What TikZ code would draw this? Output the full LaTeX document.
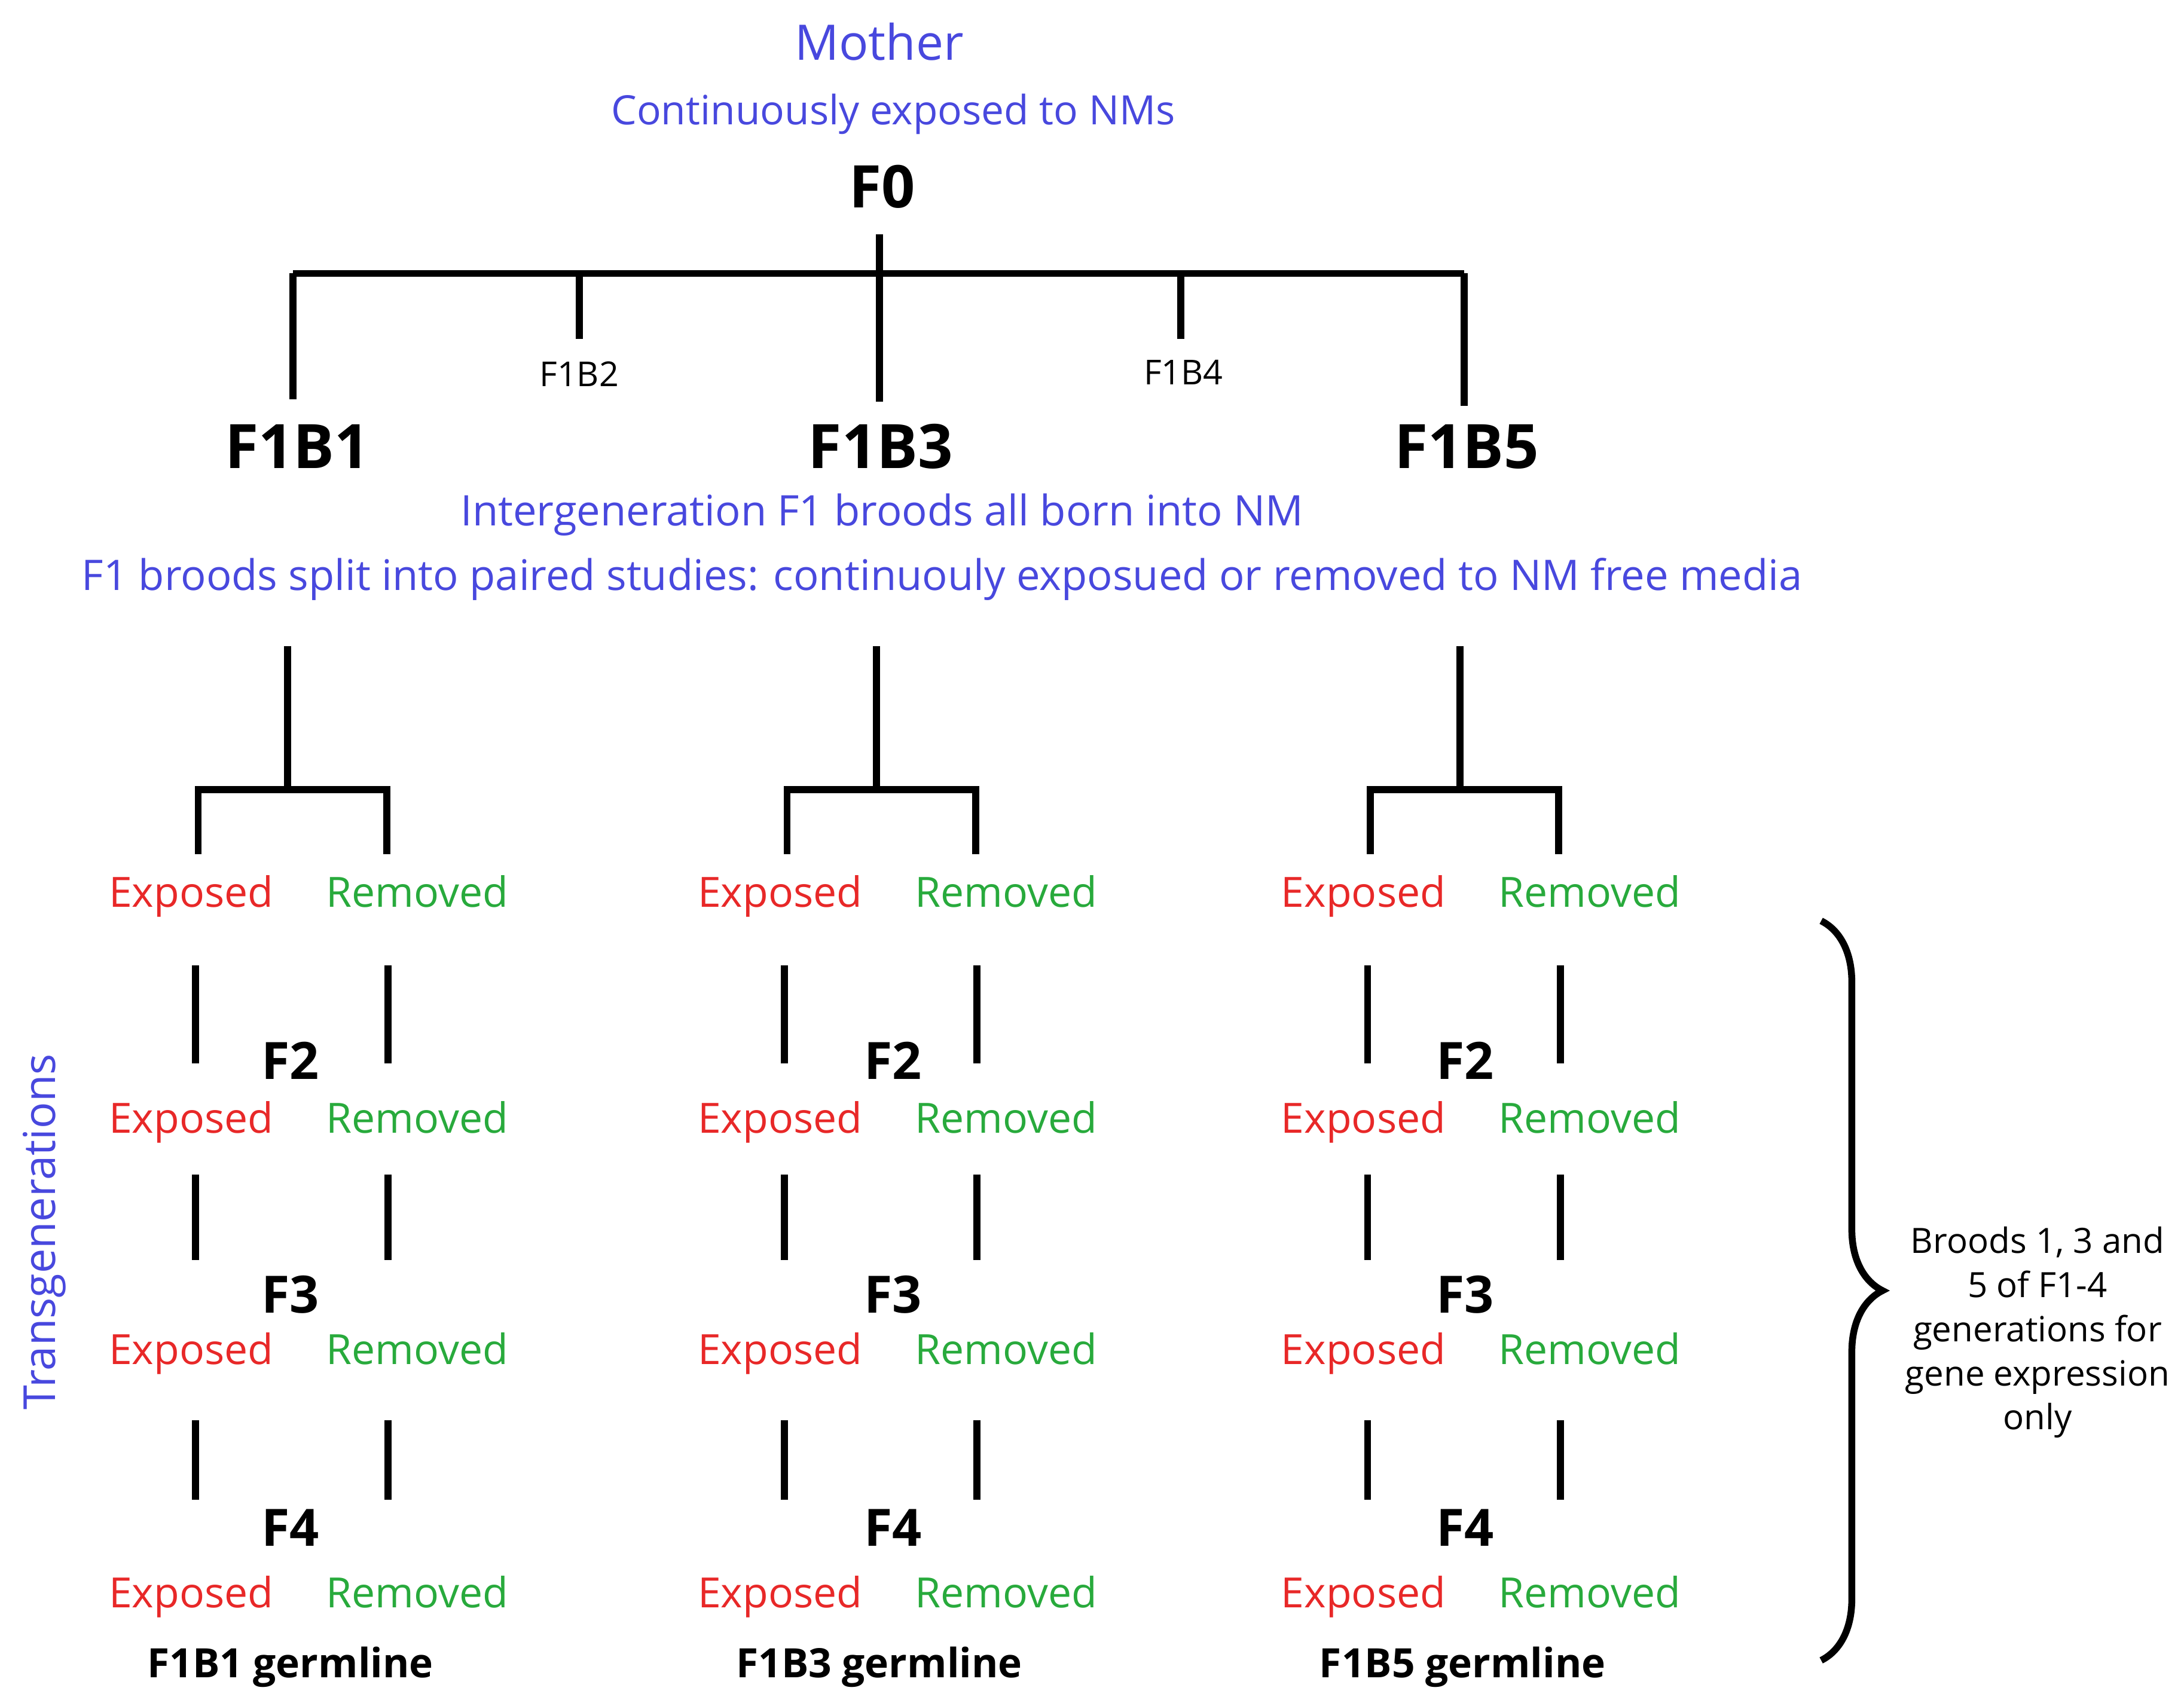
\documentclass[tikz,border=0pt]{standalone}
\usepackage{fontspec}
\setmainfont{Open Sans}
\usepackage{xcolor}
\usetikzlibrary{positioning}
\usetikzlibrary{decorations.pathreplacing}
\definecolor{nmblue}{RGB}{72,72,222}
\definecolor{exred}{RGB}{232,40,40}
\definecolor{remgreen}{RGB}{40,170,60}

\begin{document}
\begin{tikzpicture}[x=0.02cm,y=-0.02cm]

    % Custom styles
    \tikzstyle{plain} = [draw=none, fill=none, inner sep=0pt]
    \tikzstyle{bar} = [line width=2.9pt]
    \tikzstyle{note} = [plain, text=nmblue, font=\fontsize{17.2}{20}\selectfont]
    \tikzstyle{gen} = [plain, font=\fontsize{21}{24}\selectfont\bfseries]
    \tikzstyle{exp} = [plain, text=exred, text height=12pt, text depth=4pt, font=\fontsize{17}{20}\selectfont]
    \tikzstyle{rem} = [plain, text=remgreen, text height=12pt, text depth=4pt, font=\fontsize{17}{20}\selectfont]

    \useasboundingbox (0,0) rectangle (1565,1216);

    % Header
    \node[plain, text=nmblue, font=\fontsize{20}{24}\selectfont] (mother) at (630,30) {Mother};
    \node[note, font=\fontsize{16.5}{20}\selectfont] (cont) at (640,82) {Continuously exposed to NMs};
    \node[gen, font=\fontsize{24}{28}\selectfont\bfseries] (f0) at (632,134) {F0};

    % F1 broods
    \coordinate (top) at (630,168);
    \coordinate (mid) at (630,196);
    \coordinate (l) at (210,196);
    \coordinate (r) at (1049,196);
    \coordinate (b2) at (415,196);
    \coordinate (b4) at (846,196);
    \node[gen, font=\fontsize{25}{28}\selectfont\bfseries] (f1b1) at (213,320) {F1B1};
    \node[gen, font=\fontsize{25}{28}\selectfont\bfseries] (f1b3) at (631,320) {F1B3};
    \node[gen, font=\fontsize{25}{28}\selectfont\bfseries] (f1b5) at (1051,320) {F1B5};
    \node[plain, font=\fontsize{14}{16}\selectfont] (f1b2) at (415,268) {F1B2};
    \node[plain, font=\fontsize{14}{16}\selectfont] (f1b4) at (848,267) {F1B4};

    \draw[bar] (top) -- (630,288);
    \draw[bar] (l) -- (r);
    \draw[bar] (l) -- (210,286);
    \draw[bar] (r) -- (1049,291);
    \draw[bar] (b2) -- (415,243);
    \draw[bar] (b4) -- (846,243);

    \node[note] (inter) at (632,369) {Intergeneration F1 broods all born into NM};
    \node[note] (split) at (675,415) {F1 broods split into paired studies: continuouly exposued or removed to NM free media};

    % Paired studies per brood
    \foreach \n/\x/\g in {1/206/208, 3/628/640, 5/1046/1050} {
        \coordinate (s\n) at (\x,463);
        \coordinate (j\n) at (\x,566);
        \coordinate (el\n) at (\x-64,566);
        \coordinate (er\n) at (\x+71,566);
        \draw[bar] (s\n) -- (j\n);
        \draw[bar] (el\n |- 0,612) -- (el\n) -- (er\n) -- (er\n |- 0,612);
        % generations
        \foreach \y [count=\k] in {643,805,971,1145} {
            \node[exp] (e\n\k) at (\x-69,\y) {Exposed};
            \node[rem] (r\n\k) at (\x+93,\y) {Removed};
        }
        \foreach \ya/\yb in {692/762, 842/903, 1018/1075} {
            \draw[bar] (\x-66,\ya) -- (\x-66,\yb);
            \draw[bar] (\x+72,\ya) -- (\x+72,\yb);
        }
        \node[gen] (f2\n) at (\g,760) {F2};
        \node[gen] (f3\n) at (\g,928) {F3};
        \node[gen] (f4\n) at (\g,1095) {F4};
        \node[plain, font=\fontsize{16.5}{18}\selectfont\bfseries] (germ\n) at (\x+2,1195) {F1B\n\ germline};
    }

    % Side labels
    \node[note, rotate=90, font=\fontsize{18}{20}\selectfont] (trans) at (32,883) {Transgenerations};
    \coordinate (bt) at (1305,660);
    \coordinate (bb) at (1305,1190);
    \draw[line width=2.8pt, decorate, decoration={brace, amplitude=25pt}] (bt) -- (bb);
    \node[plain, align=center, font=\fontsize{14.2}{18}\selectfont] (only) at (1460,955)
        {Broods 1, 3 and\\5 of F1-4\\generations for\\gene expression\\only};

\end{tikzpicture}
\end{document}
